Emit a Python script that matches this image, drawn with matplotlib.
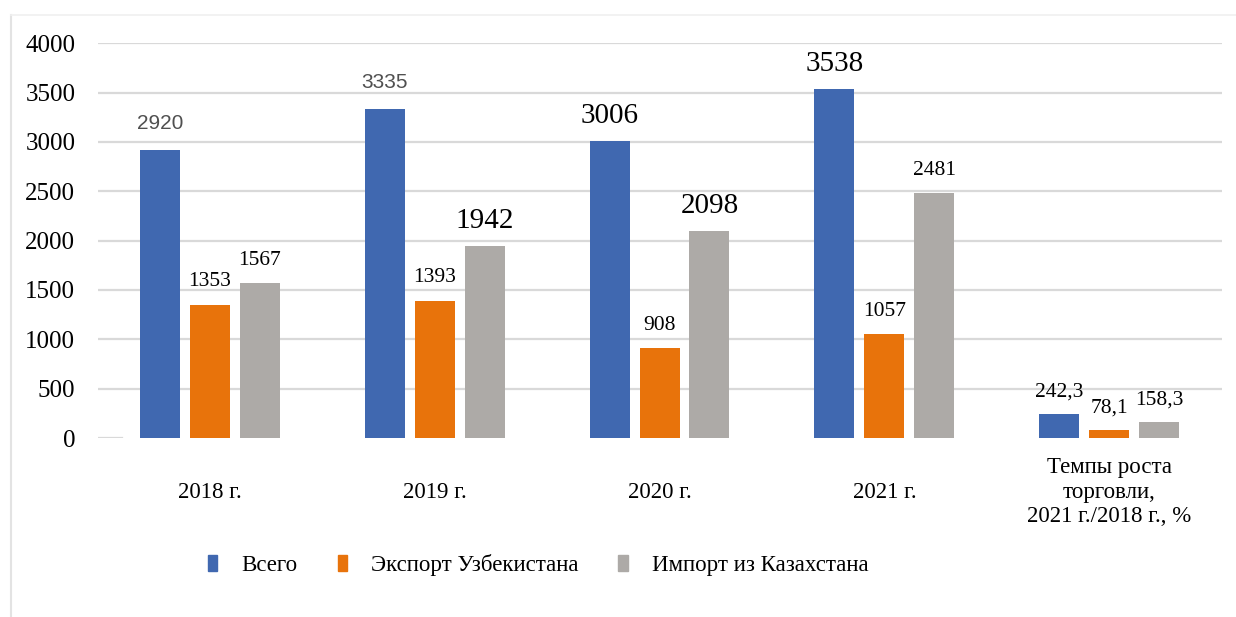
import numpy as np
import matplotlib
matplotlib.use('Agg')
import matplotlib.pyplot as plt
from matplotlib.lines import Line2D

plt.rcParams['font.family'] = ['Liberation Serif', 'DejaVu Serif']

categories = ['2018 г.', '2019 г.', '2020 г.', '2021 г.',
              'Темпы роста\nторговли,\n2021 г./2018 г., %']
series_names = ['Всего', 'Экспорт Узбекистана', 'Импорт из Казахстана']
total = [2920, 3335, 3006, 3538, 242.3]
export_uz = [1353, 1393, 908, 1057, 78.1]
import_kz = [1567, 1942, 2098, 2481, 158.3]
yticks = [0, 500, 1000, 1500, 2000, 2500, 3000, 3500, 4000]

colors = ['#4068B0', '#E8730B', '#ADAAA7']
# labels drawn bigger in the source picture
big = {(0, 2), (0, 3), (2, 1), (2, 2)}
# labels drawn in a grey sans font
grey = {(0, 0), (0, 1)}

def fmt(v):
    if v < 300:
        return '{:.1f}'.format(v).replace('.', ',')
    return '{:d}'.format(int(v))

fig = plt.figure(figsize=(12.36, 6.17), dpi=100)
ax = fig.add_axes([0.0789, 0.290, 0.9094, 0.640])

x = np.arange(len(categories))
w = 0.178
step = 0.222
for s, vals in enumerate([total, export_uz, import_kz]):
    pos = x + (s - 1) * step
    ax.bar(pos, vals, width=w, color=colors[s], label=series_names[s], zorder=3)
    for i, (p, v) in enumerate(zip(pos, vals)):
        if (s, i) in grey:
            ax.annotate(fmt(v), (p, v), xytext=(0, 15), textcoords='offset points',
                        ha='center', va='baseline', fontsize=15, color='#505050',
                        family=['Liberation Sans Narrow', 'Liberation Sans'], zorder=4)
        else:
            fs = 21 if (s, i) in big else 15.5
            ax.annotate(fmt(v), (p, v), xytext=(0, 13), textcoords='offset points',
                        ha='center', va='baseline', fontsize=fs, color='black',
                        zorder=4, annotation_clip=False)

ax.set_xlim(-0.5, len(categories) - 0.5)
ax.set_ylim(0, 4000)
for t in yticks[1:]:
    ax.axhline(t, color='#d9d9d9', lw=1.6, zorder=1)
ax.plot([-0.5, -0.39], [0, 0], color='#d9d9d9', lw=1.6, zorder=1)

ax.set_yticks(yticks)
ax.set_yticklabels([str(t) for t in yticks], fontsize=18)
ax.tick_params(axis='y', length=0, pad=16)
ax.set_xticks(x)
ax.set_xticklabels(categories, fontsize=16.5, va='center', linespacing=1.22)
ax.tick_params(axis='x', length=0, pad=39)
for sp in ax.spines.values():
    sp.set_visible(False)

handles = [plt.Rectangle((0, 0), 1, 1, color=c) for c in colors]
fig.legend(handles, series_names, loc='center', bbox_to_anchor=(0.4355, 0.084),
           ncol=3, frameon=False, fontsize=16.5, handlelength=0.4, handleheight=0.7,
           handletextpad=1.05, columnspacing=1.75)

# thin frame of the source picture
fig.add_artist(Line2D([0.0085, 0.0085], [0, 0.976], transform=fig.transFigure,
                      color='#e3e3e3', lw=1.5))
fig.add_artist(Line2D([0.0085, 1], [0.976, 0.976], transform=fig.transFigure,
                      color='#f0f0f0', lw=1.2))

fig.savefig('out.png', dpi=100, facecolor='white')
